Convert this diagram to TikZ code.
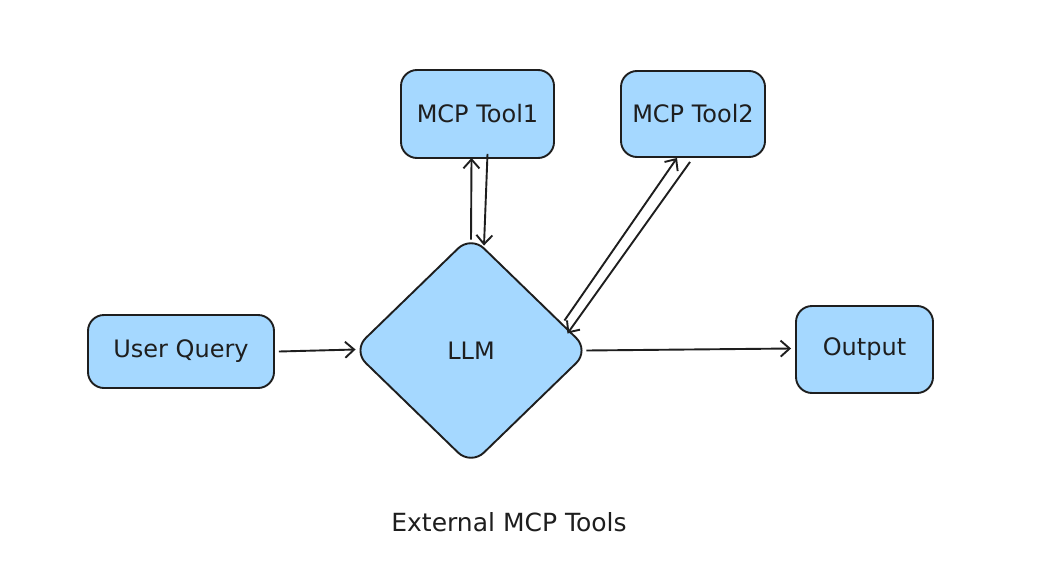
\documentclass[tikz,border=0pt]{standalone}
\usepackage{fontspec}
\setmainfont{DejaVu Sans}
\usetikzlibrary{arrows.meta,calc,shapes.geometric}
\definecolor{boxfill}{HTML}{A5D8FF}
\definecolor{ink}{HTML}{1E1E1E}
\tikzset{
  boxnode/.style={draw=ink, fill=boxfill, line width=1.9pt, rounded corners=16pt, inner sep=0pt, font=\fontsize{24}{28}\selectfont, text=ink},
  llmnode/.style={draw=ink, fill=boxfill, line width=1.9pt, diamond, rounded corners=18pt, inner sep=0pt, minimum width=237pt, minimum height=230pt, font=\fontsize{24}{28}\selectfont, text=ink},
  conn/.style={draw=ink, line width=1.9pt, -{Straight Barb[length=9pt,width=16pt,line width=1.9pt]}},
  lbl/.style={font=\fontsize{25}{29}\selectfont, text=ink}
}
\begin{document}
\begin{tikzpicture}[x=1pt,y=-1pt]
\useasboundingbox[fill=white] (0,0) rectangle (1046,562);
\node[boxnode, minimum width=186pt, minimum height=73pt] (uq) at (181,351.5) {User Query};
\node[boxnode, minimum width=153pt, minimum height=88pt] (t1) at (477.5,114) {MCP Tool1};
\node[boxnode, minimum width=144pt, minimum height=86pt] (t2) at (693,114) {MCP Tool2};
\node[boxnode, minimum width=137pt, minimum height=87pt] (out) at (864.5,349.5) {Output};
\node[llmnode] (llm) at (471,350.5) {LLM};
\node[lbl] (ext) at (509,522) {External MCP Tools};
\draw[conn] ($(uq.east)+(4,0)$) -- ($(llm.west)+(4,-1)$);
\draw[conn] ($(llm.east)+(-4,0)$) -- ($(out.west)+(-4,-1)$);
\draw[conn] ($(llm.north)+(0,5)$) -- ($(t1.south)+(-6,-1)$);
\draw[conn] ($(t1.south)+(10,-5)$) -- ($(llm.north)+(13,11)$);
\draw[conn] ($(llm.east)+(-26,-30)$) -- ($(t2.south)+(-16,0)$);
\draw[conn] ($(t2.south)+(-3,4)$) -- ($(llm.east)+(-23,-17)$);
\end{tikzpicture}
\end{document}
